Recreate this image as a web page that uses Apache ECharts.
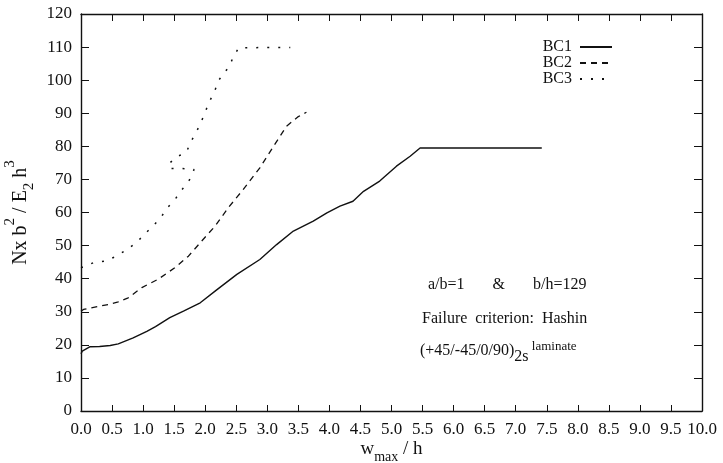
<!DOCTYPE html>
<html>
<head>
<meta charset="utf-8">
<script src="https://cdn.jsdelivr.net/npm/echarts@6/dist/echarts.min.js"></script>
<style>
html,body{margin:0;padding:0;background:#fff;}
#c{width:723px;height:463px;}
</style>
</head>
<body>
<div id="c"></div>
<script>
// ---- data ----
var seriesNames = ['BC1', 'BC2', 'BC3'];
var bc1X = [0, 0.02, 0.14, 0.30, 0.47, 0.60, 0.84, 1.06, 1.20, 1.43, 1.65, 1.92, 2.19, 2.51, 2.88, 3.15, 3.42, 3.74, 3.96, 4.17, 4.38, 4.55, 4.81, 5.08, 5.30, 5.46, 7.42];
var bc1Y = [17.3, 18.1, 19.4, 19.5, 19.8, 20.3, 22.1, 24.1, 25.5, 28.2, 30.2, 32.7, 36.7, 41.3, 45.8, 50.3, 54.4, 57.4, 59.9, 61.9, 63.4, 66.4, 69.5, 74.0, 77.0, 79.5, 79.5];
var bc2X = [0, 0.04, 0.44, 0.60, 0.76, 0.98, 1.24, 1.51, 1.73, 1.94, 2.16, 2.37, 2.61, 2.88, 3.10, 3.31, 3.50, 3.63];
var bc2Y = [30.2, 30.7, 32.2, 33.0, 34.2, 37.3, 39.8, 43.3, 46.8, 51.3, 55.9, 61.4, 66.9, 73.5, 80.0, 86.1, 89.0, 90.3];
var bc3X = [0, 0.20, 0.39, 0.57, 0.74, 0.90, 1.02, 1.16, 1.29, 1.39, 1.53, 1.65, 1.76, 1.82, 1.62, 1.42, 1.42, 1.54, 1.70, 1.76, 1.85, 1.93, 2.00, 2.07, 2.15, 2.22, 2.28, 2.38, 2.45, 2.54, 3.37];
var bc3Y = [43.3, 44.8, 45.3, 46.8, 48.8, 51.0, 53.4, 55.9, 58.6, 61.4, 64.4, 67.5, 70.2, 73.0, 73.3, 73.3, 74.8, 76.8, 78.3, 81.1, 84.1, 87.1, 90.4, 93.6, 96.6, 100.0, 101.7, 103.9, 106.9, 109.8, 109.9];
var xMin = 0, xMax = 10, xStep = 0.5;
var yMin = 0, yMax = 120, yStep = 10;

function pairs(xs, ys) { return xs.map(function (x, i) { return [x, ys[i]]; }); }

var FONT = 'Liberation Serif';
var BLACK = '#111';

var rich = {
  n: { fontFamily: FONT, fontSize: 20, color: BLACK, verticalAlign: 'bottom', padding: [0, 0, 6, 0] },
  sup: { fontFamily: FONT, fontSize: 15, color: BLACK, verticalAlign: 'bottom', padding: [0, 0, 19, 0] },
  sub: { fontFamily: FONT, fontSize: 15, color: BLACK, verticalAlign: 'bottom', padding: [0, 0, 0, 0] }
};
var richX = {
  n: { fontFamily: FONT, fontSize: 19, color: BLACK, verticalAlign: 'bottom', padding: [0, 0, 5, 0] },
  sub: { fontFamily: FONT, fontSize: 14, color: BLACK, verticalAlign: 'bottom', padding: [0, 0, 0, 0] }
};

var axisLine = { show: true, onZero: false, lineStyle: { color: BLACK, width: 1.4 } };

var chart = echarts.init(document.getElementById('c'), null, { renderer: 'canvas' });
chart.setOption({
  backgroundColor: '#fff',
  animation: false,
  grid: { left: 81, right: 21, top: 14, bottom: 52, containLabel: false, outerBoundsMode: 'none' },
  legend: {
    orient: 'vertical',
    right: 105,
    top: 34,
    align: 'right',
    itemWidth: 32,
    itemHeight: 10,
    itemGap: 0,
    data: seriesNames,
    itemStyle: { color: 'rgba(0,0,0,0)', borderWidth: 0, opacity: 0 },
    textStyle: { fontFamily: FONT, fontSize: 16, color: BLACK, lineHeight: 16, padding: [0, 3, 0, 0] }
  },
  xAxis: [{
    type: 'value', min: xMin, max: xMax, interval: xStep,
    axisLine: axisLine,
    axisTick: { inside: true, length: 6, lineStyle: { color: BLACK, width: 1 } },
    splitLine: { show: false },
    axisLabel: { fontFamily: FONT, fontSize: 17, color: BLACK, margin: 10,
      formatter: function (v) { return v.toFixed(1); } },
    name: '{n|w}{sub|max}{n| / h}',
    nameLocation: 'middle',
    nameGap: 29,
    nameMoveOverlap: false,
    nameTextStyle: { rich: richX }
  }, {
    type: 'value', min: xMin, max: xMax, interval: xStep, position: 'top',
    axisLine: axisLine,
    axisTick: { inside: true, length: 7, lineStyle: { color: BLACK, width: 1 } },
    axisLabel: { show: false }, splitLine: { show: false }
  }],
  yAxis: [{
    type: 'value', min: yMin, max: yMax, interval: yStep,
    axisLine: axisLine,
    axisTick: { inside: true, length: 8, lineStyle: { color: BLACK, width: 1 } },
    splitLine: { show: false },
    axisLabel: { fontFamily: FONT, fontSize: 17, color: BLACK, margin: 9 },
    name: '{n|Nx b}{sup|2}{n| / E}{sub|2}{n| h}{sup|3}',
    nameLocation: 'middle',
    nameRotate: 90,
    nameGap: 44,
    nameMoveOverlap: false,
    nameTextStyle: { rich: rich }
  }, {
    type: 'value', min: yMin, max: yMax, interval: yStep, position: 'right',
    axisLine: axisLine,
    axisTick: { inside: true, length: 8, lineStyle: { color: BLACK, width: 1 } },
    axisLabel: { show: false }, splitLine: { show: false }
  }],
  series: [
    { name: seriesNames[0], type: 'line', data: pairs(bc1X, bc1Y), symbol: 'none',
      lineStyle: { color: BLACK, width: 1.4, type: 'solid' }, itemStyle: { color: BLACK } },
    { name: seriesNames[1], type: 'line', data: pairs(bc2X, bc2Y), symbol: 'none',
      lineStyle: { color: BLACK, width: 1.3, type: [6, 5] }, itemStyle: { color: BLACK } },
    { name: seriesNames[2], type: 'line', data: pairs(bc3X, bc3Y), symbol: 'none',
      lineStyle: { color: BLACK, width: 1.5, type: [2, 9] }, itemStyle: { color: BLACK } }
  ],
  graphic: [
    { type: 'text', left: 428, top: 277,
      style: { text: 'a/b=1       &       b/h=129', font: '16px "Liberation Serif"', fill: BLACK } },
    { type: 'text', left: 422, top: 311,
      style: { text: 'Failure  criterion:  Hashin', font: '16px "Liberation Serif"', fill: BLACK } },
    { type: 'text', left: 420, top: 340,
      style: {
        text: '{p|(+45/-45/0/90)}{s|2s}{l| laminate}',
        rich: {
          p: { fontFamily: FONT, fontSize: 16, fill: BLACK, verticalAlign: 'bottom', padding: [0, 0, 6, 0] },
          s: { fontFamily: FONT, fontSize: 16, fill: BLACK, verticalAlign: 'bottom', padding: [0, 0, 0, 0] },
          l: { fontFamily: FONT, fontSize: 13, fill: BLACK, verticalAlign: 'bottom', padding: [0, 0, 12, 0] }
        }
      } }
  ]
});
</script>
</body>
</html>
